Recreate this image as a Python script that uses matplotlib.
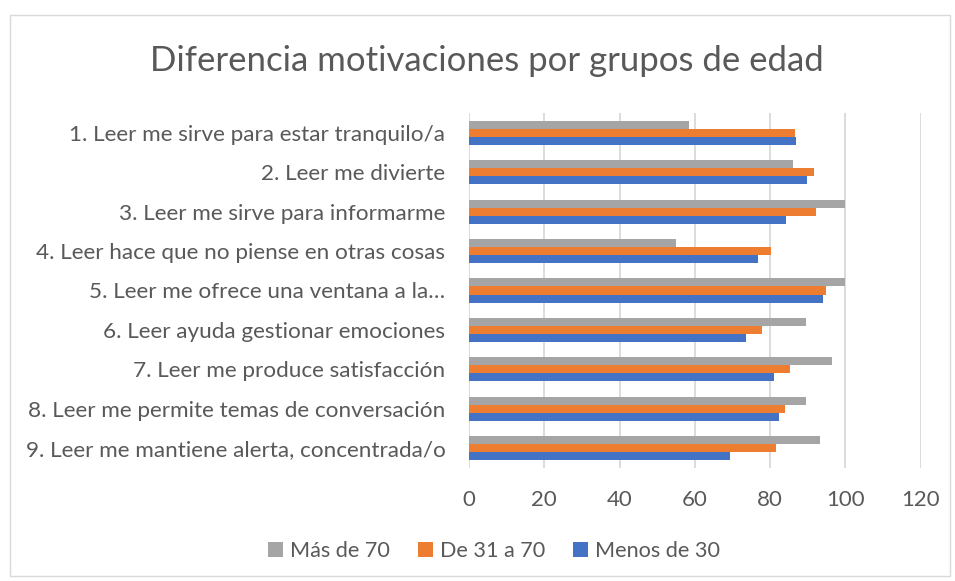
import matplotlib
matplotlib.use("Agg")
import matplotlib.pyplot as plt
import numpy as np
from matplotlib.patches import Rectangle

categories = [
    "1. Leer me sirve para estar tranquilo/a",
    "2. Leer me divierte",
    "3. Leer me sirve para informarme",
    "4. Leer hace que no piense en otras cosas",
    "5. Leer me ofrece una ventana a la…",
    "6. Leer ayuda gestionar emociones",
    "7. Leer me produce satisfacción",
    "8. Leer me permite temas de conversación",
    "9. Leer me mantiene alerta, concentrada/o",
]
mas_70 = [58.6, 86.1, 100, 55.0, 100, 89.6, 96.6, 89.5, 93.2]
de_31_70 = [86.7, 91.7, 92.2, 80.2, 94.9, 78.0, 85.2, 83.9, 81.6]
menos_30 = [87.0, 89.8, 84.2, 76.9, 94.0, 73.5, 81.0, 82.3, 69.3]
series_names = ["Más de 70", "De 31 a 70", "Menos de 30"]
colors = ["#A5A5A5", "#ED7D31", "#4472C4"]
xticks = [0, 20, 40, 60, 80, 100, 120]

plt.rcParams['font.family'] = ['Lato', 'DejaVu Sans']

fig = plt.figure(figsize=(9.55, 5.81), dpi=100)
ax = fig.add_axes([469/955, 1-468/581, (920.5-469)/955, (468-113)/581])

y = np.arange(len(categories))
h = 0.203
for vals, off, c, name in zip([mas_70, de_31_70, menos_30], [-h, 0, h], colors, series_names):
    ax.barh(y + off, vals, height=h, color=c, label=name, zorder=3)

ax.set_ylim(len(categories) - 0.5, -0.5)
ax.set_xlim(0, 120)
ax.set_xticks(xticks)
ax.set_xticklabels([str(t) for t in xticks], fontsize=16, color="#595959")
ax.set_yticks(y)
ax.set_yticklabels(categories, fontsize=16.2, color="#595959")
ax.tick_params(axis='both', length=0)
ax.tick_params(axis='x', pad=16)
ax.tick_params(axis='y', pad=17)
ax.grid(axis='x', color="#D9D9D9", linewidth=1.3, zorder=0)
for s in ax.spines.values():
    s.set_visible(False)

fig.text(487/955, 1-61/581, "Diferencia motivaciones por grupos de edad", fontsize=25,
         color="#595959", ha='center', va='center')

handles, labels = ax.get_legend_handles_labels()
leg = fig.legend(handles, labels, loc='center', bbox_to_anchor=(494/955, 1-551/581), ncol=3,
                 frameon=False, fontsize=15.6, handlelength=0.7, handleheight=0.7,
                 columnspacing=1.3, handletextpad=0.3, labelcolor="#595959")

fig.patches.append(Rectangle((10/955, 1-576/581), 940/955, 561/581, transform=fig.transFigure,
                             fill=False, edgecolor="#D9D9D9", linewidth=1))

fig.savefig("out.png", dpi=100)
